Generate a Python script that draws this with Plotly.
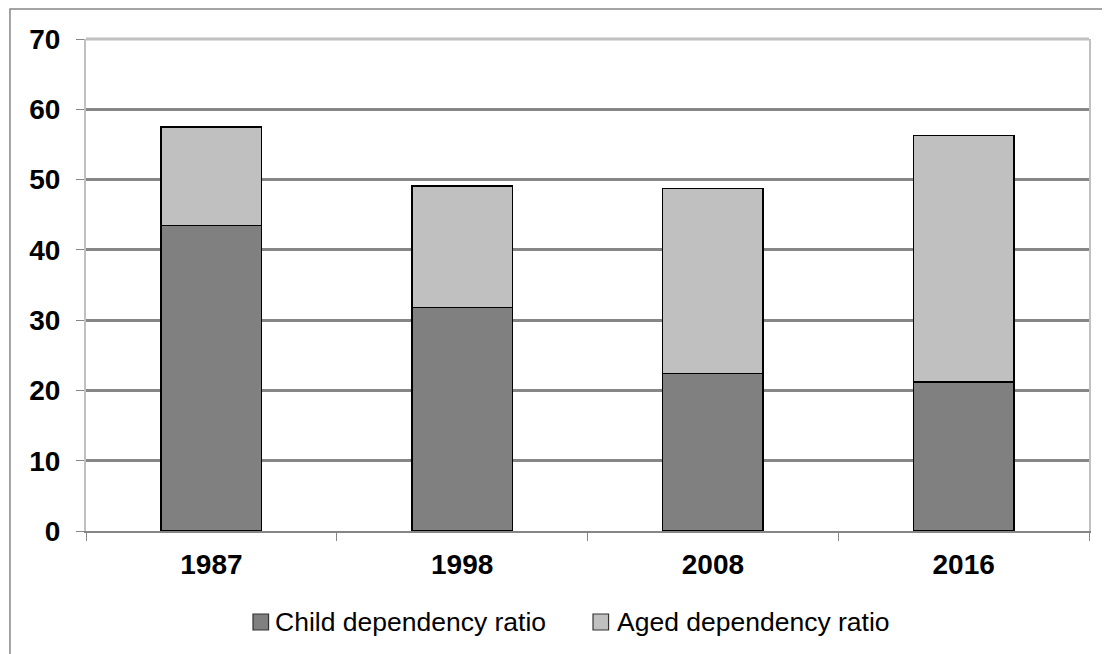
import plotly.graph_objects as go

years = ["1987", "1998", "2008", "2016"]
child = [43.5, 31.8, 22.4, 21.2]
aged = [14.0, 17.3, 26.3, 35.1]
y_ticks = [0, 10, 20, 30, 40, 50, 60, 70]
series_names = ["Child dependency ratio", "Aged dependency ratio"]
series_colors = ["#808080", "#c0c0c0"]

FONT = "Liberation Sans, Arial, sans-serif"

fig = go.Figure()
for vals, name, col in zip([child, aged], series_names, series_colors):
    fig.add_trace(go.Bar(x=years, y=vals, name=name,
                         marker=dict(color=col, line=dict(color="#000000", width=1.5)),
                         width=0.4, showlegend=False))

# legend drawn by hand (square + text) to match the original's spacing
legend_sq_x = [0.1665, 0.5055]
legend_txt_x = [0.1864, 0.5274]
shapes = [
    dict(type="line", xref="paper", yref="paper", x0=0, x1=1, y0=1, y1=1,
         line=dict(color="#c0c0c0", width=3)),
    dict(type="rect", xref="paper", yref="paper", x0=-0.0758, x1=1.05, y0=-0.3, y1=1.061,
         line=dict(color="#868686", width=1.5), layer="below"),
]
annotations = []
for sx, tx, name, col in zip(legend_sq_x, legend_txt_x, series_names, series_colors):
    shapes.append(dict(type="rect", xref="paper", yref="paper", x0=sx, x1=sx + 0.0155,
                       y0=-0.2012, y1=-0.1687, fillcolor=col,
                       line=dict(color="#333333", width=1.2)))
    annotations.append(dict(xref="paper", yref="paper", x=tx, y=-0.185, xanchor="left",
                            yanchor="middle", text=name, showarrow=False,
                            font=dict(size=26.5, family=FONT, color="#000")))

# page body has an 8px margin: the figure is drawn 8px smaller
fig.update_layout(
    barmode="stack",
    width=1102, height=646,
    margin=dict(l=78, r=21, t=31, b=123, autoexpand=False),
    paper_bgcolor="white", plot_bgcolor="white",
    font=dict(family=FONT, color="#000000"),
    showlegend=False,
    xaxis=dict(type="category", showline=True, linecolor="#868686", linewidth=2,
               ticks="outside", tickson="boundaries", ticklen=8, tickcolor="#868686",
               tickwidth=1, tickfont=dict(size=28, family=FONT, color="#000"),
               tickvals=years, ticktext=["<b>%s</b>" % y for y in years],
               ticklabelstandoff=7, showgrid=False),
    yaxis=dict(range=[0, 70], tickvals=y_ticks, ticktext=["<b>%d</b>" % v for v in y_ticks],
               showline=True, mirror=True,
               linecolor="#c0c0c0", linewidth=2, ticks="outside", ticklen=8,
               tickcolor="#868686", showgrid=True, gridcolor="#868686", gridwidth=3,
               ticklabelstandoff=10,
               tickfont=dict(size=28, family=FONT, color="#000"), zeroline=False),
    shapes=shapes,
    annotations=annotations,
)
fig.write_html("out.html")
